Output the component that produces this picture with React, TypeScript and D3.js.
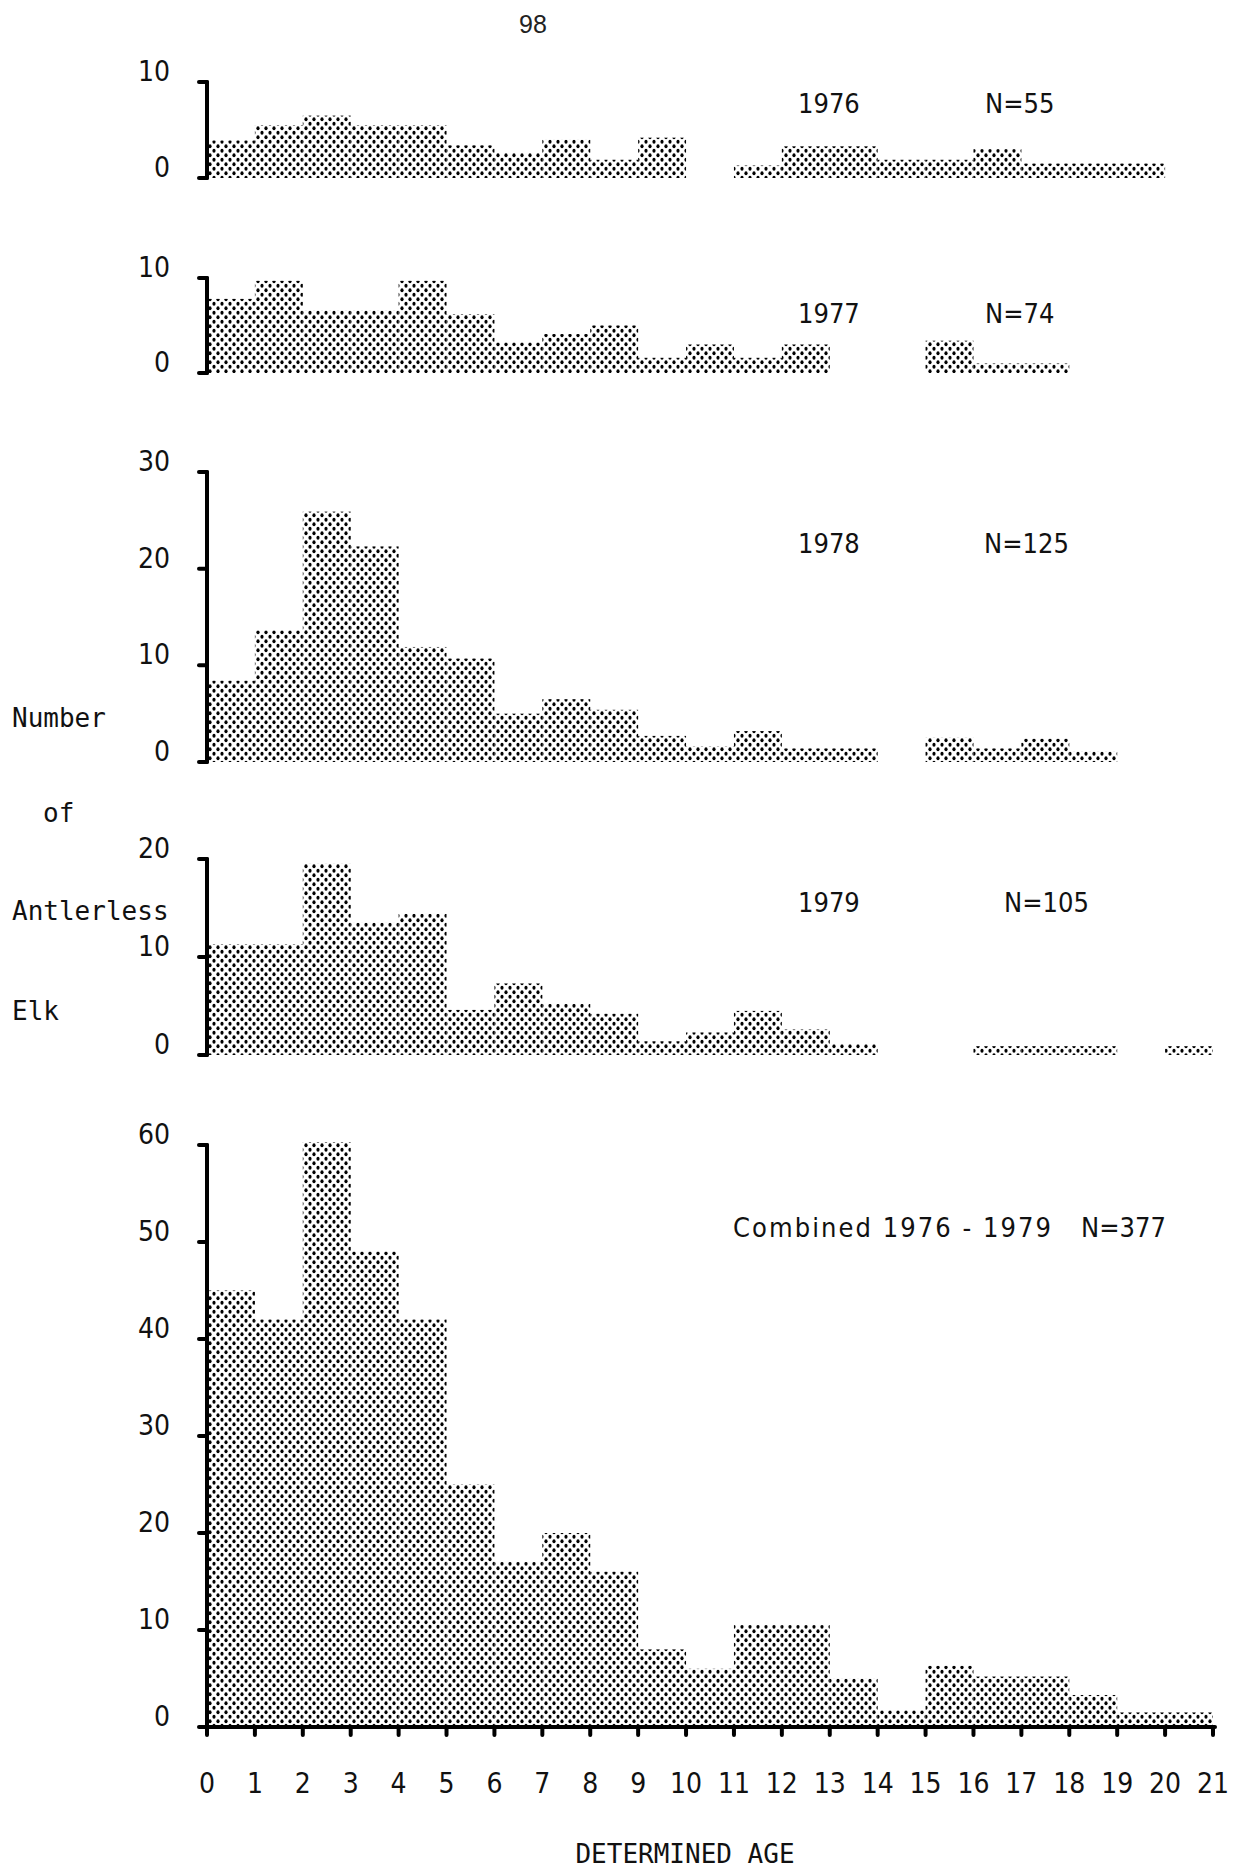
import * as React from 'react';
import * as d3 from 'd3';

// bin starts (age classes 0..20) and axis tick labels
const ages = [0, 1, 2, 3, 4, 5, 6, 7, 8, 9, 10, 11, 12, 13, 14, 15, 16, 17, 18, 19, 20];
const ageTicks = [0, 1, 2, 3, 4, 5, 6, 7, 8, 9, 10, 11, 12, 13, 14, 15, 16, 17, 18, 19, 20, 21];

// counts, one value per age class
const counts1976 = [3.9, 5.5, 6.5, 5.5, 5.5, 3.4, 2.6, 4, 1.9, 4.2, 0, 1.3, 3.3, 3.3, 1.9, 1.9, 3, 1.5, 1.5, 1.5, 0];
const counts1977 = [7.8, 9.7, 6.6, 6.6, 9.7, 6.2, 3.2, 4.1, 5, 1.6, 3, 1.6, 3, 0, 0, 3.4, 1, 1, 0, 0, 0];
const counts1978 = [8.4, 13.6, 25.9, 22.3, 11.9, 10.7, 5, 6.5, 5.4, 2.7, 1.6, 3.2, 1.4, 1.4, 0, 2.5, 1.4, 2.4, 1.1, 0, 0];
const counts1979 = [11.3, 11.3, 19.5, 13.5, 14.4, 4.6, 7.3, 5.2, 4.2, 1.4, 2.3, 4.5, 2.6, 1.1, 0, 0, 0.9, 0.9, 0.9, 0, 0.9];
const countsAll = [45, 42, 60.3, 49, 42, 25, 17, 20, 16, 8, 6, 10.5, 10.5, 5, 1.7, 6.3, 5.2, 5.2, 3.3, 1.5, 1.5];

const ticks1976 = [0, 10];
const ticks1977 = [0, 10];
const ticks1978 = [0, 10, 20, 30];
const ticks1979 = [0, 10, 20];
const ticksAll = [0, 10, 20, 30, 40, 50, 60];

const yLabelLines = ['Number', 'of', 'Antlerless', 'Elk'];

const numFont = "'Liberation Sans Narrow', 'DejaVu Sans Condensed', 'Liberation Sans', sans-serif";
const monoFont = "'DejaVu Sans Mono', 'Liberation Mono', monospace";

const W = 1240;
const H = 1868;
const AXIS_X = 207;

const x = d3.scaleLinear().domain([0, 21]).range([AXIS_X, 1213]);

const panels = [
  { year: '1976', n: 'N=55', counts: counts1976, ticks: ticks1976, top: 82, bottom: 178, textY: 113, nX: 985 },
  { year: '1977', n: 'N=74', counts: counts1977, ticks: ticks1977, top: 278, bottom: 373, textY: 323, nX: 985 },
  { year: '1978', n: 'N=125', counts: counts1978, ticks: ticks1978, top: 472, bottom: 762, textY: 553, nX: 984 },
  { year: '1979', n: 'N=105', counts: counts1979, ticks: ticks1979, top: 859, bottom: 1055, textY: 912, nX: 1004 }
];

const Bars = ({ counts, y }) => (
  <g>
    {counts.map((c, i) =>
      c > 0 ? (
        <rect
          key={i}
          x={x(ages[i])}
          y={y(c)}
          width={x(ages[i] + 1) - x(ages[i])}
          height={y(0) - y(c)}
          fill="url(#dots)"
        />
      ) : null
    )}
  </g>
);

const YAxis = ({ ticks, y }) => {
  const max = ticks[ticks.length - 1];
  return (
    <g>
      <line x1={AXIS_X} x2={AXIS_X} y1={y(max)} y2={y(0)} stroke="#000" strokeWidth={4} strokeLinecap="round" />
      {ticks.map(t => (
        <g key={t}>
          <line x1={AXIS_X - 8} x2={AXIS_X} y1={y(t)} y2={y(t)} stroke="#000" strokeWidth={4} strokeLinecap="round" />
          <text
            x={170}
            y={y(t) - 1}
            textAnchor="end"
            fontFamily={numFont}
            fontSize={28}
            fill="#111"
          >
            {t}
          </text>
        </g>
      ))}
    </g>
  );
};

const Panel = ({ p }) => {
  const y = d3
    .scaleLinear()
    .domain([0, p.ticks[p.ticks.length - 1]])
    .range([p.bottom, p.top]);
  return (
    <g>
      <Bars counts={p.counts} y={y} />
      <YAxis ticks={p.ticks} y={y} />
      <text x={798} y={p.textY} fontFamily={numFont} fontSize={27} fill="#111">
        {p.year}
      </text>
      <text x={p.nX} y={p.textY} fontFamily={numFont} fontSize={27} fill="#111">
        {p.n}
      </text>
    </g>
  );
};

const Combined = () => {
  const y = d3.scaleLinear().domain([0, 60]).range([1727, 1145]);
  return (
    <g>
      <Bars counts={countsAll} y={y} />
      <YAxis ticks={ticksAll} y={y} />
      <line x1={AXIS_X} x2={x(21) + 2} y1={y(0)} y2={y(0)} stroke="#000" strokeWidth={4} strokeLinecap="round" />
      {ageTicks.map(a => (
        <g key={a}>
          <line x1={x(a)} x2={x(a)} y1={y(0)} y2={y(0) + 8} stroke="#000" strokeWidth={4} strokeLinecap="round" />
          <text
            x={x(a)}
            y={1793}
            textAnchor="middle"
            fontFamily={numFont}
            fontSize={28}
            fill="#111"
          >
            {a}
          </text>
        </g>
      ))}
      <text
        x={733}
        y={1237}
        fontFamily={numFont}
        fontSize={27}
        fill="#111"
        textLength={318}
        lengthAdjust="spacing"
      >
        Combined 1976 - 1979
      </text>
      <text x={1081} y={1237} fontFamily={numFont} fontSize={27} fill="#111">
        N=377
      </text>
    </g>
  );
};

const App = () => {
  const labelPos = [
    { x: 12, y: 727 },
    { x: 43, y: 822 },
    { x: 12, y: 920 },
    { x: 12, y: 1020 }
  ];
  return (
    <svg
      width={W}
      height={H}
      viewBox={`0 0 ${W} ${H}`}
      style={{ position: 'absolute', left: 0, top: 0, background: '#fff' }}
    >
      <defs>
        <pattern id="dots" width={8} height={9} patternUnits="userSpaceOnUse">
          <ellipse cx={2} cy={2.25} rx={1.6} ry={2} fill="#000" />
          <ellipse cx={6} cy={6.75} rx={1.6} ry={2} fill="#000" />
        </pattern>
      </defs>
      <rect width={W} height={H} fill="#fff" />
      <text x={533} y={33} textAnchor="middle" fontFamily="'Liberation Sans', sans-serif" fontSize={25} fill="#222">
        98
      </text>
      {panels.map(p => (
        <Panel key={p.year} p={p} />
      ))}
      <Combined />
      {yLabelLines.map((s, i) => (
        <text key={s} x={labelPos[i].x} y={labelPos[i].y} fontFamily={monoFont} fontSize={26} fill="#111">
          {s}
        </text>
      ))}
      <text x={685} y={1863} textAnchor="middle" fontFamily={monoFont} fontSize={26} fill="#111">
        DETERMINED AGE
      </text>
    </svg>
  );
};

export default App;
